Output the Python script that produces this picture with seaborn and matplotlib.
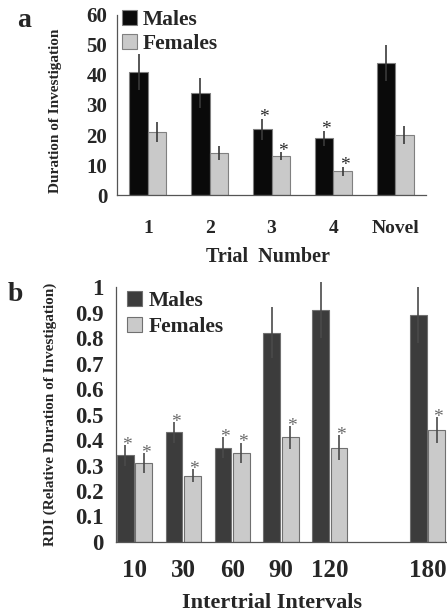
import numpy as np
import pandas as pd
import seaborn as sns
import matplotlib.pyplot as plt

# panel a data
trials = ['1', '2', '3', '4', 'Novel']
males_a = [41, 34, 22, 19, 44]
males_a_err = [6, 5, 3.5, 2.5, 6]
females_a = [21, 14, 13, 8, 20]
females_a_err = [3.2, 2.2, 1.2, 1.5, 3]
stars_a_m = [False, False, True, True, False]
stars_a_f = [False, False, True, True, False]

# panel b data (empty slot between 120 and 180)
intervals = ['10', '30', '60', '90', '120', '180']
order_b = ['10', '30', '60', '90', '120', ' ', '180']
males_b = [0.34, 0.43, 0.37, 0.82, 0.91, 0.89]
males_b_err = [0.04, 0.04, 0.04, 0.10, 0.11, 0.11]
females_b = [0.31, 0.26, 0.35, 0.41, 0.37, 0.44]
females_b_err = [0.04, 0.025, 0.04, 0.045, 0.05, 0.05]
stars_b_m = [True, True, True, False, False, False]
stars_b_f = [True, True, True, True, True, True]

sns.set_style('white')
plt.rcParams['font.family'] = ['Liberation Serif', 'DejaVu Serif']
plt.rcParams['font.weight'] = 'bold'
plt.rcParams['axes.labelweight'] = 'bold'

df_a = pd.DataFrame({
    'trial': trials * 2,
    'sex': ['Males'] * 5 + ['Females'] * 5,
    'value': males_a + females_a,
})
df_b = pd.DataFrame({
    'interval': intervals * 2,
    'sex': ['Males'] * 6 + ['Females'] * 6,
    'value': males_b + females_b,
})

fig = plt.figure(figsize=(4.47, 6.15), dpi=100)
ax1 = fig.add_axes([117 / 447, 1 - 195 / 615, 309 / 447, 180 / 615])
ax2 = fig.add_axes([116 / 447, 1 - 542 / 615, 331 / 447, 255 / 615])


def add_errors(ax, errs, stars, ecolor, scolor, soff):
    for cont, err, st in zip(ax.containers, errs, stars):
        for bar, e, s in zip(cont, err, st):
            x = bar.get_x() + bar.get_width() / 2
            h = bar.get_height()
            ax.errorbar(x, h, yerr=e, fmt='none', ecolor=ecolor, elinewidth=1.2,
                        capsize=0, clip_on=False, zorder=3)
            if s:
                ax.text(x + bar.get_width() * 0.1, h + e - soff, '*', ha='center', va='bottom',
                        fontsize=14, color=scolor, fontweight='normal', zorder=4)


# ---- panel a
sns.barplot(data=df_a, x='trial', y='value', hue='sex', order=trials,
            palette=['#0a0a0a', '#c9c9c9'], width=0.6, gap=0, errorbar=None,
            edgecolor='#808080', linewidth=0.8, ax=ax1)
add_errors(ax1, [males_a_err, females_a_err], [stars_a_m, stars_a_f], '#3a3a3a', '#2a2a2a', 2.4)
ax1.set_ylim(0, 60)
ax1.set_xlim(-0.5, 4.5)
ax1.set_yticks(range(0, 61, 10))
ax1.tick_params(axis='y', labelsize=15, length=3, width=0.8, pad=4, direction='out')
ax1.tick_params(axis='x', which='major', labelsize=14, length=0, pad=18)
ax1.set_xticks(np.arange(-0.5, 5, 1), minor=True)
ax1.tick_params(axis='x', which='minor', length=4, width=0.8, direction='out')
ax1.set_xlabel('Trial  Number', fontsize=14.5, fontweight='bold')
ax1.xaxis.set_label_coords(0.49, -0.29)
ax1.set_ylabel('Duration of Investigation', fontsize=11, fontweight='bold')
ax1.yaxis.set_label_coords(-0.178, 0.47)
h, l = ax1.get_legend_handles_labels()
ax1.legend(h, l, loc='upper left', bbox_to_anchor=(0.015, 1.03), frameon=False,
           fontsize=15.5, handlelength=0.7, handleheight=0.7, handletextpad=0.3,
           labelspacing=0.2, borderpad=0, borderaxespad=0)

# ---- panel b
sns.barplot(data=df_b, x='interval', y='value', hue='sex', order=order_b,
            palette=['#3c3c3c', '#cacaca'], width=0.76, gap=0.1, errorbar=None,
            edgecolor='#707070', linewidth=0.8, ax=ax2)
add_errors(ax2, [males_b_err, females_b_err], [stars_b_m, stars_b_f], '#4a4a4a', '#6a6a6a', 0.035)
ax2.set_ylim(0, 1)
ax2.set_xlim(-0.38, 6.4)
ax2.set_yticks(np.arange(0, 1.01, 0.1))
ax2.set_yticklabels(['0'] + [f'{v:.1f}' for v in np.arange(0.1, 0.95, 0.1)] + ['1'])
ax2.tick_params(axis='y', labelsize=16.5, length=5, width=0.8, pad=4, direction='out')
ax2.tick_params(axis='x', which='major', labelsize=18, length=0, pad=12)
ax2.set_xticks(np.arange(0, 6) - 0.3, minor=True)
ax2.tick_params(axis='x', which='minor', length=5, width=0.8, direction='out')
ax2.set_xlabel('Intertrial Intervals', fontsize=16, fontweight='bold')
ax2.xaxis.set_label_coords(0.47, -0.2)
ax2.set_ylabel('RDI (Relative Duration of Investigation)', fontsize=11, fontweight='bold')
ax2.yaxis.set_label_coords(-0.178, 0.5)
h, l = ax2.get_legend_handles_labels()
ax2.legend(h, l, loc='upper left', bbox_to_anchor=(0.033, 0.985), frameon=False,
           fontsize=15.5, handlelength=0.7, handleheight=0.7, handletextpad=0.3,
           labelspacing=0.3, borderpad=0, borderaxespad=0)

for ax in (ax1, ax2):
    sns.despine(ax=ax)
    for sp in ('left', 'bottom'):
        ax.spines[sp].set_color('#555555')
        ax.spines[sp].set_linewidth(0.9)

fig.text(17 / 447, 1 - 8 / 615, 'a', fontsize=20, fontweight='bold', va='top', ha='left')
fig.text(8 / 447, 1 - 282 / 615, 'b', fontsize=20, fontweight='bold', va='top', ha='left')

fig.savefig('out.png', dpi=100)
